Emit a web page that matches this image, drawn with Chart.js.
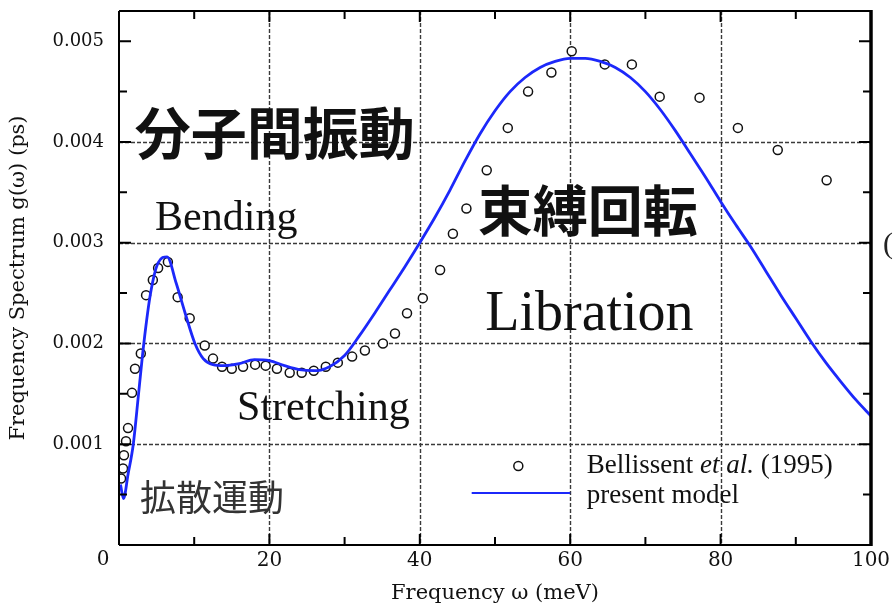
<!DOCTYPE html>
<html>
<head>
<meta charset="utf-8">
<script src="https://cdn.jsdelivr.net/npm/chart.js@4.4.1/dist/chart.umd.min.js"></script>
<style>
  html, body { margin: 0; padding: 0; background: #fff; }
  #wrap { width: 893px; height: 609px; position: relative; }
</style>
</head>
<body>
<div id="wrap"><canvas id="c" width="893" height="609"></canvas></div>
<script>
// Measured spectrum (Bellissent et al., 1995): frequency in meV, g(ω) in ps
const expX = [0.27, 0.53, 0.66, 0.93, 1.2, 1.73, 2.13, 2.9, 3.6, 4.5, 5.2, 6.5, 7.8, 9.4, 11.4, 12.5,
  13.7, 15.0, 16.5, 18.1, 19.5, 21.0, 22.7, 24.3, 25.9, 27.5, 29.1, 31.0, 32.7, 35.1, 36.7, 38.3,
  40.4, 42.7, 44.4, 46.2, 48.9, 51.7, 54.4, 57.5, 60.2, 64.6, 68.2, 71.9, 77.2, 82.3, 87.6, 94.1];
const expY = [0.00066, 0.00076, 0.00089, 0.00103, 0.00116, 0.00151, 0.00175, 0.0019, 0.00248, 0.00263,
  0.00275, 0.00281, 0.00246, 0.00225, 0.00198, 0.00185, 0.00177, 0.00175, 0.00177, 0.00179, 0.00178,
  0.00175, 0.00171, 0.00171, 0.00173, 0.00177, 0.00181, 0.00187, 0.00193, 0.002, 0.0021, 0.0023,
  0.00245, 0.00273, 0.00309, 0.00334, 0.00372, 0.00414, 0.0045, 0.00469, 0.0049, 0.00477, 0.00477,
  0.00445, 0.00444, 0.00414, 0.00392, 0.00362];

// Model spectrum
const modelX = [0.2, 0.6, 1.2, 1.9, 2.6, 3.3, 4.2, 5.2, 6.4, 7.6, 8.8, 10.1, 11.2, 12.5, 14, 16, 18, 20,
  22, 24, 26, 28, 30, 32, 34, 36, 38, 40, 42, 44, 46, 48, 50, 52, 54, 56, 58, 60, 62, 64, 66, 68, 70,
  72, 74, 76, 78, 80, 82, 84, 86, 88, 90, 92, 94, 96, 98, 100];
const modelY = [0.0006, 0.00046, 0.0007, 0.001, 0.0015, 0.002, 0.0025, 0.0028, 0.00286, 0.0026, 0.0023,
  0.002, 0.00185, 0.00179, 0.00178, 0.0018, 0.00184, 0.00183, 0.00178, 0.00174, 0.00173, 0.00177,
  0.00188, 0.00208, 0.0023, 0.00253, 0.00276, 0.003, 0.00325, 0.00352, 0.00381, 0.00408, 0.00431,
  0.0045, 0.00464, 0.00474, 0.0048, 0.00483, 0.00483, 0.0048, 0.00474, 0.00464, 0.0045, 0.00432,
  0.00411, 0.00388, 0.00365, 0.00341, 0.00318, 0.00296, 0.00272, 0.00248, 0.00225, 0.00202, 0.00181,
  0.00162, 0.00144, 0.00128];

// Axis ticks
const xTicks = [0, 20, 40, 60, 80, 100];
const xMinorTicks = [10, 30, 50, 70, 90];
const yTicks = [0.001, 0.002, 0.003, 0.004, 0.005];
const yMinorTicks = [0.0005, 0.0015, 0.0025, 0.0035, 0.0045];
const xGrid = [20, 40, 60, 80];
const yGrid = [0.001, 0.002, 0.003, 0.004];

const expLabel = 'Bellissent et al. (1995)';
const modelLabel = 'present model';
const BLUE = 'rgb(28,40,250)';
const SERIF = '"Liberation Serif", "Times New Roman", serif';
const TICKFONT = '"DejaVu Serif", serif';
const CJK = '"Noto Sans CJK JP", "Noto Sans CJK SC", sans-serif';

const expPoints = expX.map((x, i) => ({ x: x, y: expY[i] }));
const modelPoints = modelX.map((x, i) => ({ x: x, y: modelY[i] }));

// Dashed grid, framed box with inward ticks on all four sides
const framePlugin = {
  id: 'frame',
  beforeDatasetsDraw(chart) {
    const { ctx, chartArea: a, scales: { x, y } } = chart;
    ctx.save();
    ctx.strokeStyle = '#3a3a3a';
    ctx.lineWidth = 1.4;
    ctx.setLineDash([4, 2]);
    xGrid.forEach(v => {
      const px = Math.round(x.getPixelForValue(v)) + 0.5;
      ctx.beginPath(); ctx.moveTo(px, a.top); ctx.lineTo(px, a.bottom); ctx.stroke();
    });
    yGrid.forEach(v => {
      const py = Math.round(y.getPixelForValue(v)) + 0.5;
      ctx.beginPath(); ctx.moveTo(a.left, py); ctx.lineTo(a.right, py); ctx.stroke();
    });
    ctx.restore();
  },
  afterDatasetsDraw(chart) {
    const { ctx, chartArea: a, scales: { x, y } } = chart;
    ctx.save();
    ctx.strokeStyle = '#000';
    ctx.setLineDash([]);
    // frame
    ctx.lineWidth = 2;
    ctx.beginPath();
    ctx.moveTo(a.left, a.top); ctx.lineTo(a.right, a.top);
    ctx.moveTo(a.left, a.top); ctx.lineTo(a.left, a.bottom);
    ctx.moveTo(a.left, a.bottom); ctx.lineTo(a.right, a.bottom);
    ctx.stroke();
    ctx.lineWidth = 3.5;
    ctx.beginPath(); ctx.moveTo(a.right, a.top - 1); ctx.lineTo(a.right, a.bottom + 1); ctx.stroke();
    // ticks
    ctx.lineWidth = 2;
    const tx = (v, len) => {
      const px = x.getPixelForValue(v);
      ctx.beginPath();
      ctx.moveTo(px, a.bottom); ctx.lineTo(px, a.bottom - len);
      ctx.moveTo(px, a.top); ctx.lineTo(px, a.top + len);
      ctx.stroke();
    };
    const ty = (v, len) => {
      const py = y.getPixelForValue(v);
      ctx.beginPath();
      ctx.moveTo(a.left, py); ctx.lineTo(a.left + len, py);
      ctx.moveTo(a.right, py); ctx.lineTo(a.right - len, py);
      ctx.stroke();
    };
    xTicks.forEach(v => tx(v, 11));
    xMinorTicks.forEach(v => tx(v, 8));
    yTicks.forEach(v => ty(v, 12));
    yMinorTicks.forEach(v => ty(v, 8));
    ctx.restore();
  }
};

// Region labels, the shared origin label and the key
const labelPlugin = {
  id: 'labels',
  afterDraw(chart) {
    const { ctx, scales: { x, y } } = chart;
    const P = (vx, vy) => [x.getPixelForValue(vx), y.getPixelForValue(vy)];
    const text = (s, vx, vy, font, color, base) => {
      const [px, py] = P(vx, vy);
      ctx.font = font;
      ctx.fillStyle = color || '#000';
      ctx.textAlign = 'left';
      ctx.textBaseline = base || 'alphabetic';
      ctx.fillText(s, px, py);
    };
    ctx.save();
    text('分子間振動', 2.1, 0.00409, '700 56px ' + CJK, '#111', 'middle');
    text('束縛回転', 47.7, 0.00332, '700 55px ' + CJK, '#111', 'middle');
    text('Bending', 4.8, 0.003125, '42px ' + SERIF, '#111');
    text('Libration', 48.7, 0.00213, '56px ' + SERIF, '#111');
    text('Stretching', 15.7, 0.00124, '42px ' + SERIF, '#111');
    text('拡散運動', 2.8, 0.000476, '400 36px ' + CJK, '#333', 'middle');

    // origin "0" shared by both axes
    ctx.font = '20px ' + TICKFONT;
    ctx.fillStyle = '#111';
    ctx.textAlign = 'center';
    ctx.textBaseline = 'top';
    ctx.fillText('0', x.getPixelForValue(0) - 16, chart.chartArea.bottom + 5);

    // key
    const ds0 = chart.data.datasets[1];
    const [cx, cy] = P(53.1, 0.000784);
    ctx.beginPath();
    ctx.arc(cx, cy, ds0.pointRadius, 0, Math.PI * 2);
    ctx.fillStyle = '#fff'; ctx.fill();
    ctx.lineWidth = ds0.pointBorderWidth; ctx.strokeStyle = ds0.pointBorderColor; ctx.stroke();

    const [lx1, ly] = P(46.9, 0.000516);
    const [lx2] = P(60.0, 0.000516);
    ctx.beginPath(); ctx.moveTo(lx1, ly); ctx.lineTo(lx2, ly);
    ctx.strokeStyle = BLUE; ctx.lineWidth = 2; ctx.stroke();

    const [tx1, tyA] = P(62.2, 0.000714);
    ctx.textAlign = 'left'; ctx.textBaseline = 'alphabetic'; ctx.fillStyle = '#111';
    const parts = [['Bellissent ', '27px '], ['et al.', 'italic 27px '], [' (1995)', '27px ']];
    let cur = tx1;
    parts.forEach(([s, f]) => {
      ctx.font = f + SERIF;
      ctx.fillText(s, cur, tyA);
      cur += ctx.measureText(s).width;
    });
    const [, tyB] = P(62.2, 0.000417);
    ctx.font = '27px ' + SERIF;
    ctx.fillText(modelLabel, tx1, tyB);

    // edge of a neighbouring caption
    ctx.font = '30px ' + SERIF;
    ctx.fillStyle = '#222';
    ctx.textBaseline = 'middle';
    ctx.fillText('(', chart.chartArea.right + 12, y.getPixelForValue(0.003) + 2);
    ctx.restore();
  }
};

new Chart(document.getElementById('c'), {
  type: 'scatter',
  data: {
    datasets: [
      {
        label: modelLabel,
        data: modelPoints,
        showLine: true,
        borderColor: BLUE,
        borderWidth: 2.8,
        pointRadius: 0,
        cubicInterpolationMode: 'monotone',
        order: 0
      },
      {
        label: expLabel,
        data: expPoints,
        showLine: false,
        pointStyle: 'circle',
        pointRadius: 4.5,
        pointBorderWidth: 1.5,
        pointBorderColor: '#111',
        pointBackgroundColor: '#fff',
        order: 1
      }
    ]
  },
  options: {
    responsive: false,
    animation: false,
    devicePixelRatio: 1,
    layout: { padding: { top: 11, right: 22, left: 0, bottom: 0 } },
    plugins: { legend: { display: false }, tooltip: { enabled: false } },
    scales: {
      x: {
        type: 'linear', min: 0, max: 100,
        afterBuildTicks: s => { s.ticks = xTicks.map(v => ({ value: v })); },
        afterFit: s => { s.height = 64; s.paddingLeft = 0; s.paddingRight = 0; },
        grid: { display: false, drawTicks: false },
        border: { display: false },
        ticks: {
          padding: 4, color: '#111', maxRotation: 0,
          font: { family: TICKFONT, size: 20 },
          callback: v => (v === 0 ? '' : String(v))
        },
        title: {
          display: true, text: 'Frequency ω (meV)', color: '#111',
          font: { family: TICKFONT, size: 21 },
          padding: { top: 0, bottom: 3 }
        }
      },
      y: {
        type: 'linear', min: 0, max: 0.0053,
        afterBuildTicks: s => { s.ticks = yTicks.map(v => ({ value: v })); },
        afterFit: s => { s.width = 119; s.paddingTop = 0; s.paddingBottom = 0; },
        grid: { display: false, drawTicks: false },
        border: { display: false },
        ticks: {
          padding: 15, color: '#111',
          font: { family: TICKFONT, size: 18 },
          callback: v => v.toFixed(3)
        },
        title: {
          display: true, text: 'Frequency Spectrum g(ω) (ps)', color: '#111',
          font: { family: TICKFONT, size: 21 },
          padding: { top: 6, bottom: 0 }
        }
      }
    }
  },
  plugins: [framePlugin, labelPlugin]
});
</script>
</body>
</html>
